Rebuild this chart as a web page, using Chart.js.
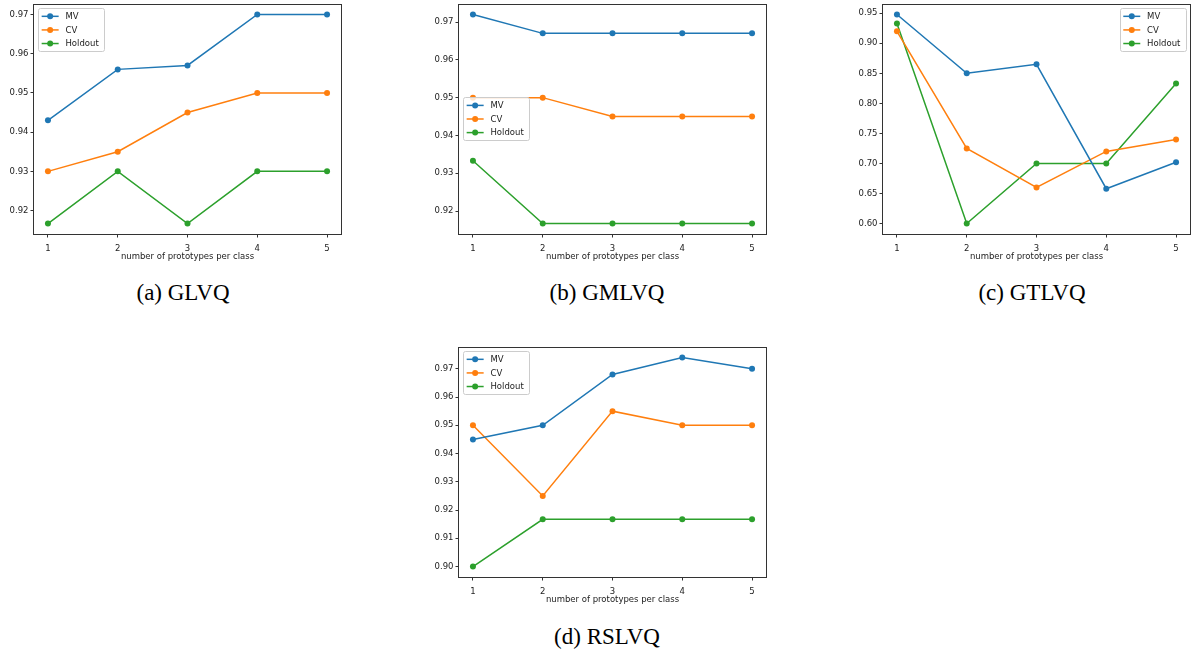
<!DOCTYPE html>
<html>
<head>
<meta charset="utf-8">
<script src="https://cdn.jsdelivr.net/npm/chart.js@4.4.1/dist/chart.umd.min.js"></script>
<style>
body { margin: 0; background: #fff; width: 1194px; height: 655px; position: relative; overflow: hidden; }
canvas { position: absolute; }
.cap { position: absolute; font-family: "Liberation Serif", "Times New Roman", serif; font-size: 23px; color: #000; transform: translateX(-50%); white-space: nowrap; line-height: 26px; }
</style>
</head>
<body>
<canvas id="chartA" width="345" height="262" style="left:0px;top:0px"></canvas>
<canvas id="chartB" width="345" height="262" style="left:425px;top:0px"></canvas>
<canvas id="chartC" width="345" height="262" style="left:849px;top:0px"></canvas>
<canvas id="chartD" width="345" height="262" style="left:425px;top:343px"></canvas>
<div class="cap" style="left:183px;top:280px">(a) GLVQ</div>
<div class="cap" style="left:607px;top:280px">(b) GMLVQ</div>
<div class="cap" style="left:1032px;top:280px">(c) GTLVQ</div>
<div class="cap" style="left:607px;top:624px">(d) RSLVQ</div>

<script>
// number of prototypes per class
const prototypes = [1, 2, 3, 4, 5];
const seriesNames = ['MV', 'CV', 'Holdout'];
const seriesColors = ['#1f77b4', '#ff7f0e', '#2ca02c'];

// (a) GLVQ
const glvqMV = [0.943, 0.956, 0.957, 0.970, 0.970];
const glvqCV = [0.930, 0.935, 0.945, 0.950, 0.950];
const glvqHoldout = [0.9167, 0.930, 0.9167, 0.930, 0.930];
const glvqTicks = [0.92, 0.93, 0.94, 0.95, 0.96, 0.97];

// (b) GMLVQ
const gmlvqMV = [0.972, 0.967, 0.967, 0.967, 0.967];
const gmlvqCV = [0.950, 0.950, 0.945, 0.945, 0.945];
const gmlvqHoldout = [0.9333, 0.9167, 0.9167, 0.9167, 0.9167];
const gmlvqTicks = [0.92, 0.93, 0.94, 0.95, 0.96, 0.97];

// (c) GTLVQ
const gtlvqMV = [0.948, 0.850, 0.865, 0.658, 0.702];
const gtlvqCV = [0.920, 0.725, 0.660, 0.720, 0.740];
const gtlvqHoldout = [0.933, 0.600, 0.700, 0.700, 0.833];
const gtlvqTicks = [0.60, 0.65, 0.70, 0.75, 0.80, 0.85, 0.90, 0.95];

// (d) RSLVQ
const rslvqMV = [0.945, 0.950, 0.968, 0.974, 0.970];
const rslvqCV = [0.950, 0.925, 0.955, 0.950, 0.950];
const rslvqHoldout = [0.900, 0.9167, 0.9167, 0.9167, 0.9167];
const rslvqTicks = [0.90, 0.91, 0.92, 0.93, 0.94, 0.95, 0.96, 0.97];

const FONT = '"DejaVu Sans", sans-serif';
const FS = 8.5;

// matplotlib-style box around the axes
const frameBox = {
    id: 'frameBox',
    afterDraw(chart) {
        const a = chart.chartArea, ctx = chart.ctx;
        ctx.save();
        ctx.strokeStyle = '#333';
        ctx.lineWidth = 1;
        ctx.strokeRect(Math.round(a.left) - 0.5, Math.round(a.top) + 0.5,
            Math.round(a.right) - Math.round(a.left) + 1, Math.round(a.bottom) - Math.round(a.top));
        ctx.restore();
    }
};

// legend drawn inside the plot area
const boxLegend = {
    id: 'boxLegend',
    afterDraw(chart, args, opts) {
        const ctx = chart.ctx, a = chart.chartArea;
        const pad = 0.4 * FS, handle = 2 * FS, gap = 0.8 * FS, spacing = 0.5 * FS, margin = 0.5 * FS;
        const rowH = 1.1 * FS;
        const items = chart.data.datasets;
        ctx.save();
        ctx.font = FS + 'px ' + FONT;
        const textW = Math.max(...items.map(d => ctx.measureText(d.label).width));
        const w = 2 * pad + handle + gap + textW + 2;
        const h = 2 * pad + items.length * rowH + (items.length - 1) * spacing;
        let x = a.left + margin, y = a.top + margin;
        if (opts.where === 'upper right') x = a.right - margin - w;
        if (opts.where === 'center left') y = (a.top + a.bottom) / 2 - h / 2;
        ctx.beginPath();
        ctx.roundRect(Math.round(x) + 0.5, Math.round(y) + 0.5, Math.round(w), Math.round(h), 2);
        ctx.fillStyle = 'rgba(255,255,255,0.8)';
        ctx.fill();
        ctx.strokeStyle = '#cccccc';
        ctx.lineWidth = 1;
        ctx.stroke();
        items.forEach((d, i) => {
            const cy = y + pad + i * (rowH + spacing) + rowH / 2;
            const hx = x + pad;
            ctx.strokeStyle = d.borderColor;
            ctx.lineWidth = 1.5;
            ctx.beginPath();
            ctx.moveTo(hx, cy);
            ctx.lineTo(hx + handle, cy);
            ctx.stroke();
            ctx.fillStyle = d.borderColor;
            ctx.beginPath();
            ctx.arc(hx + handle / 2, cy, 3, 0, Math.PI * 2);
            ctx.fill();
            ctx.fillStyle = '#222';
            ctx.textBaseline = 'middle';
            ctx.textAlign = 'left';
            ctx.fillText(d.label, hx + handle + gap, cy + 0.5);
        });
        ctx.restore();
    }
};

function makeChart(id, series, yTicks, legendWhere) {
    const all = series.flat();
    const lo = Math.min(...all), hi = Math.max(...all);
    const m = (hi - lo) * 0.05;
    new Chart(document.getElementById(id), {
        type: 'line',
        data: {
            datasets: series.map((vals, i) => ({
                label: seriesNames[i],
                data: prototypes.map((p, j) => ({ x: p, y: vals[j] })),
                borderColor: seriesColors[i],
                backgroundColor: seriesColors[i],
                pointBackgroundColor: seriesColors[i],
                pointBorderWidth: 0,
                pointRadius: 3,
                borderWidth: 1.5,
                tension: 0,
                fill: false
            }))
        },
        options: {
            responsive: false,
            animation: false,
            events: [],
            layout: { padding: { left: 0, right: 2, top: 3, bottom: 0 } },
            plugins: {
                legend: { display: false },
                tooltip: { enabled: false },
                boxLegend: { where: legendWhere }
            },
            scales: {
                x: {
                    type: 'linear',
                    min: 0.8,
                    max: 5.2,
                    afterBuildTicks: s => { s.ticks = prototypes.map(v => ({ value: v })); },
                    afterFit: s => { s.height = 28; s.paddingLeft = 0; s.paddingRight = 0; },
                    border: { display: false },
                    grid: { drawOnChartArea: false, drawTicks: true, tickLength: 3.5, color: '#333' },
                    ticks: { color: '#222', font: { family: FONT, size: FS }, padding: 6, maxRotation: 0,
                        callback: v => String(v) },
                    title: { display: true, text: 'number of prototypes per class', color: '#222',
                        font: { family: FONT, size: FS }, padding: { top: 0, bottom: 0 } }
                },
                y: {
                    type: 'linear',
                    min: lo - m,
                    max: hi + m,
                    afterBuildTicks: s => { s.ticks = yTicks.map(v => ({ value: v })); },
                    afterFit: s => { s.width = 34; s.paddingTop = 0; s.paddingBottom = 0; },
                    border: { display: false },
                    grid: { drawOnChartArea: false, drawTicks: true, tickLength: 3.5, color: '#333' },
                    ticks: { color: '#222', font: { family: FONT, size: FS }, padding: 2,
                        callback: v => v.toFixed(2) }
                }
            }
        },
        plugins: [frameBox, boxLegend]
    });
}

makeChart('chartA', [glvqMV, glvqCV, glvqHoldout], glvqTicks, 'upper left');
makeChart('chartB', [gmlvqMV, gmlvqCV, gmlvqHoldout], gmlvqTicks, 'center left');
makeChart('chartC', [gtlvqMV, gtlvqCV, gtlvqHoldout], gtlvqTicks, 'upper right');
makeChart('chartD', [rslvqMV, rslvqCV, rslvqHoldout], rslvqTicks, 'upper left');
</script>
</body>
</html>
